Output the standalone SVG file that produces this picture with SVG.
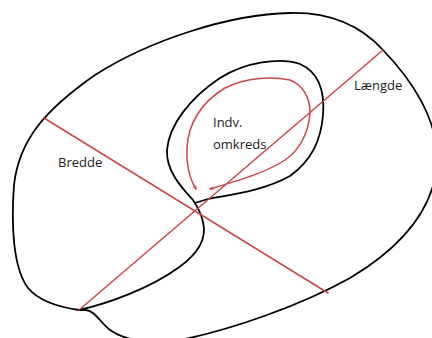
<svg xmlns="http://www.w3.org/2000/svg" width="432" height="338" viewBox="0 0 432 338">
<style>
.blk{fill:none;stroke:#000;stroke-width:1.8;stroke-linecap:round;stroke-linejoin:round}
.red{fill:none;stroke:#c8464b;stroke-width:1.5;stroke-linecap:round}
.lbl{font-family:"Open Sans","Noto Sans",sans-serif;font-size:13px;fill:#1a1a1a}
</style>
<defs>
<marker id="tip" viewBox="0 0 6 6" refX="5" refY="3" markerWidth="4" markerHeight="4" orient="auto-start-reverse" markerUnits="userSpaceOnUse">
<path d="M0.5,0.8 L5,3 L0.5,5.2" fill="none" stroke="#c8464b" stroke-width="1.2"/>
</marker>
</defs>
<rect width="432" height="338" fill="#fff"/>
<g id="outer">
<path class="blk" d="M79,310 C58,307 38,300 28,288 C13,268 11,225 14,185 C19,140 45,110 95,75 C150,40 230,14 290,13 C330,12 360,25 383,50 C410,78 440,120 437,165 C433,210 400,248 350,278 C300,306 230,330 180,340 C150,345 124,340 110,330 C100,322 95,311 86,310 Z"/>
</g>
<g id="inner">
<path class="blk" d="M79,310 C110,303 150,288 178,268 C198,254 207,238 203,222 C201,213 197,206 193,200 C180,186 166,170 167,150 C169,125 190,98 220,78 C245,62 280,57 300,64 C318,72 325,90 323,115 C321,140 312,160 290,176 C265,190 235,194 208,199 L195,203"/>
</g>
<g id="connectors">
<line class="red" x1="44" y1="118" x2="328" y2="293"/>
<line class="red" x1="383" y1="50" x2="79" y2="310"/>
<path class="red" marker-start="url(#tip)" marker-end="url(#tip)" d="M196,189 C189,178 186,162 187,148 C188,125 200,103 225,88 C245,78 270,76 290,80 C303,85 310,98 310,112 C309,132 300,150 285,160 C265,173 240,180 210,189"/>
</g>
<g id="labels">
<text class="lbl" x="58" y="167">Bredde</text>
<text class="lbl" x="354" y="90">Længde</text>
<text class="lbl" x="213" y="127">Indv.</text>
<text class="lbl" x="213" y="149">omkreds</text>
</g>
</svg>
